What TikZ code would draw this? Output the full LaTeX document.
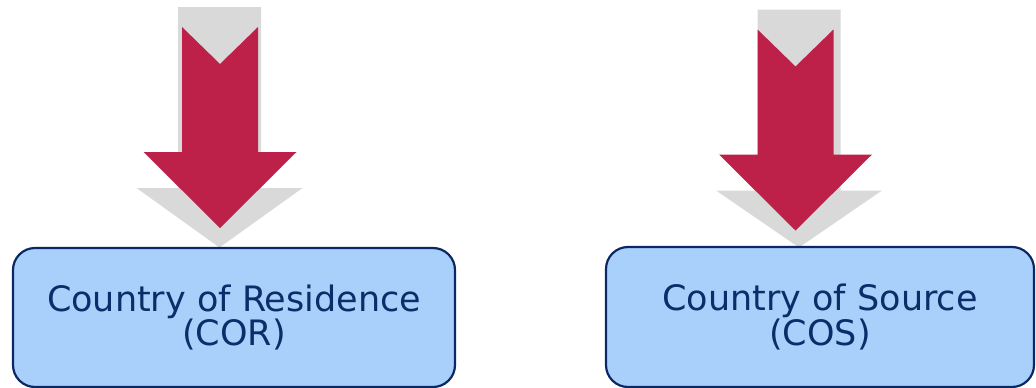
\documentclass[tikz,border=0pt]{standalone}
\usepackage{fontspec}
\setmainfont{DejaVu Sans}
\usetikzlibrary{calc}
\definecolor{arrowred}{RGB}{189,32,73}
\definecolor{shadowgray}{RGB}{217,217,217}
\definecolor{boxfill}{RGB}{168,208,250}
\definecolor{boxline}{RGB}{12,40,100}
\definecolor{boxtext}{RGB}{12,45,105}
\tikzset{
 countrybox/.style={draw=boxline, line width=2.2pt, fill=boxfill, rounded corners=22pt,
   text=boxtext, align=center, font=\fontsize{35}{33}\selectfont, inner sep=0pt}
}

\begin{document}
\begin{tikzpicture} [x=1pt, y=-1pt]
\useasboundingbox (0,0) rectangle (1036,388);
\foreach \cx/\gx/\dy in {220/219.5/0, 795.5/799/2.5} {
 \fill[shadowgray] (\gx-41.5,7+\dy) -- (\gx+41.5,7+\dy) -- (\gx+41.5,188+\dy) -- (\gx+83,188+\dy)
   -- (\gx,247.5) -- (\gx-83,188+\dy) -- (\gx-41.5,188+\dy) -- cycle;
 \fill[arrowred] (\cx-38,27+\dy) -- (\cx,64+\dy) -- (\cx+38,27+\dy) -- (\cx+38,152+\dy) -- (\cx+76.5,152+\dy)
   -- (\cx,228+\dy) -- (\cx-76.5,152+\dy) -- (\cx-38,152+\dy) -- cycle;
}
\node[countrybox, minimum width=442pt, minimum height=139pt] (cor) at (234,317.5) {Country of Residence\\(COR)};
\node[countrybox, minimum width=428pt, minimum height=140pt] (cos) at (820,317) {Country of Source\\(COS)};
\end{tikzpicture}
\end{document}
